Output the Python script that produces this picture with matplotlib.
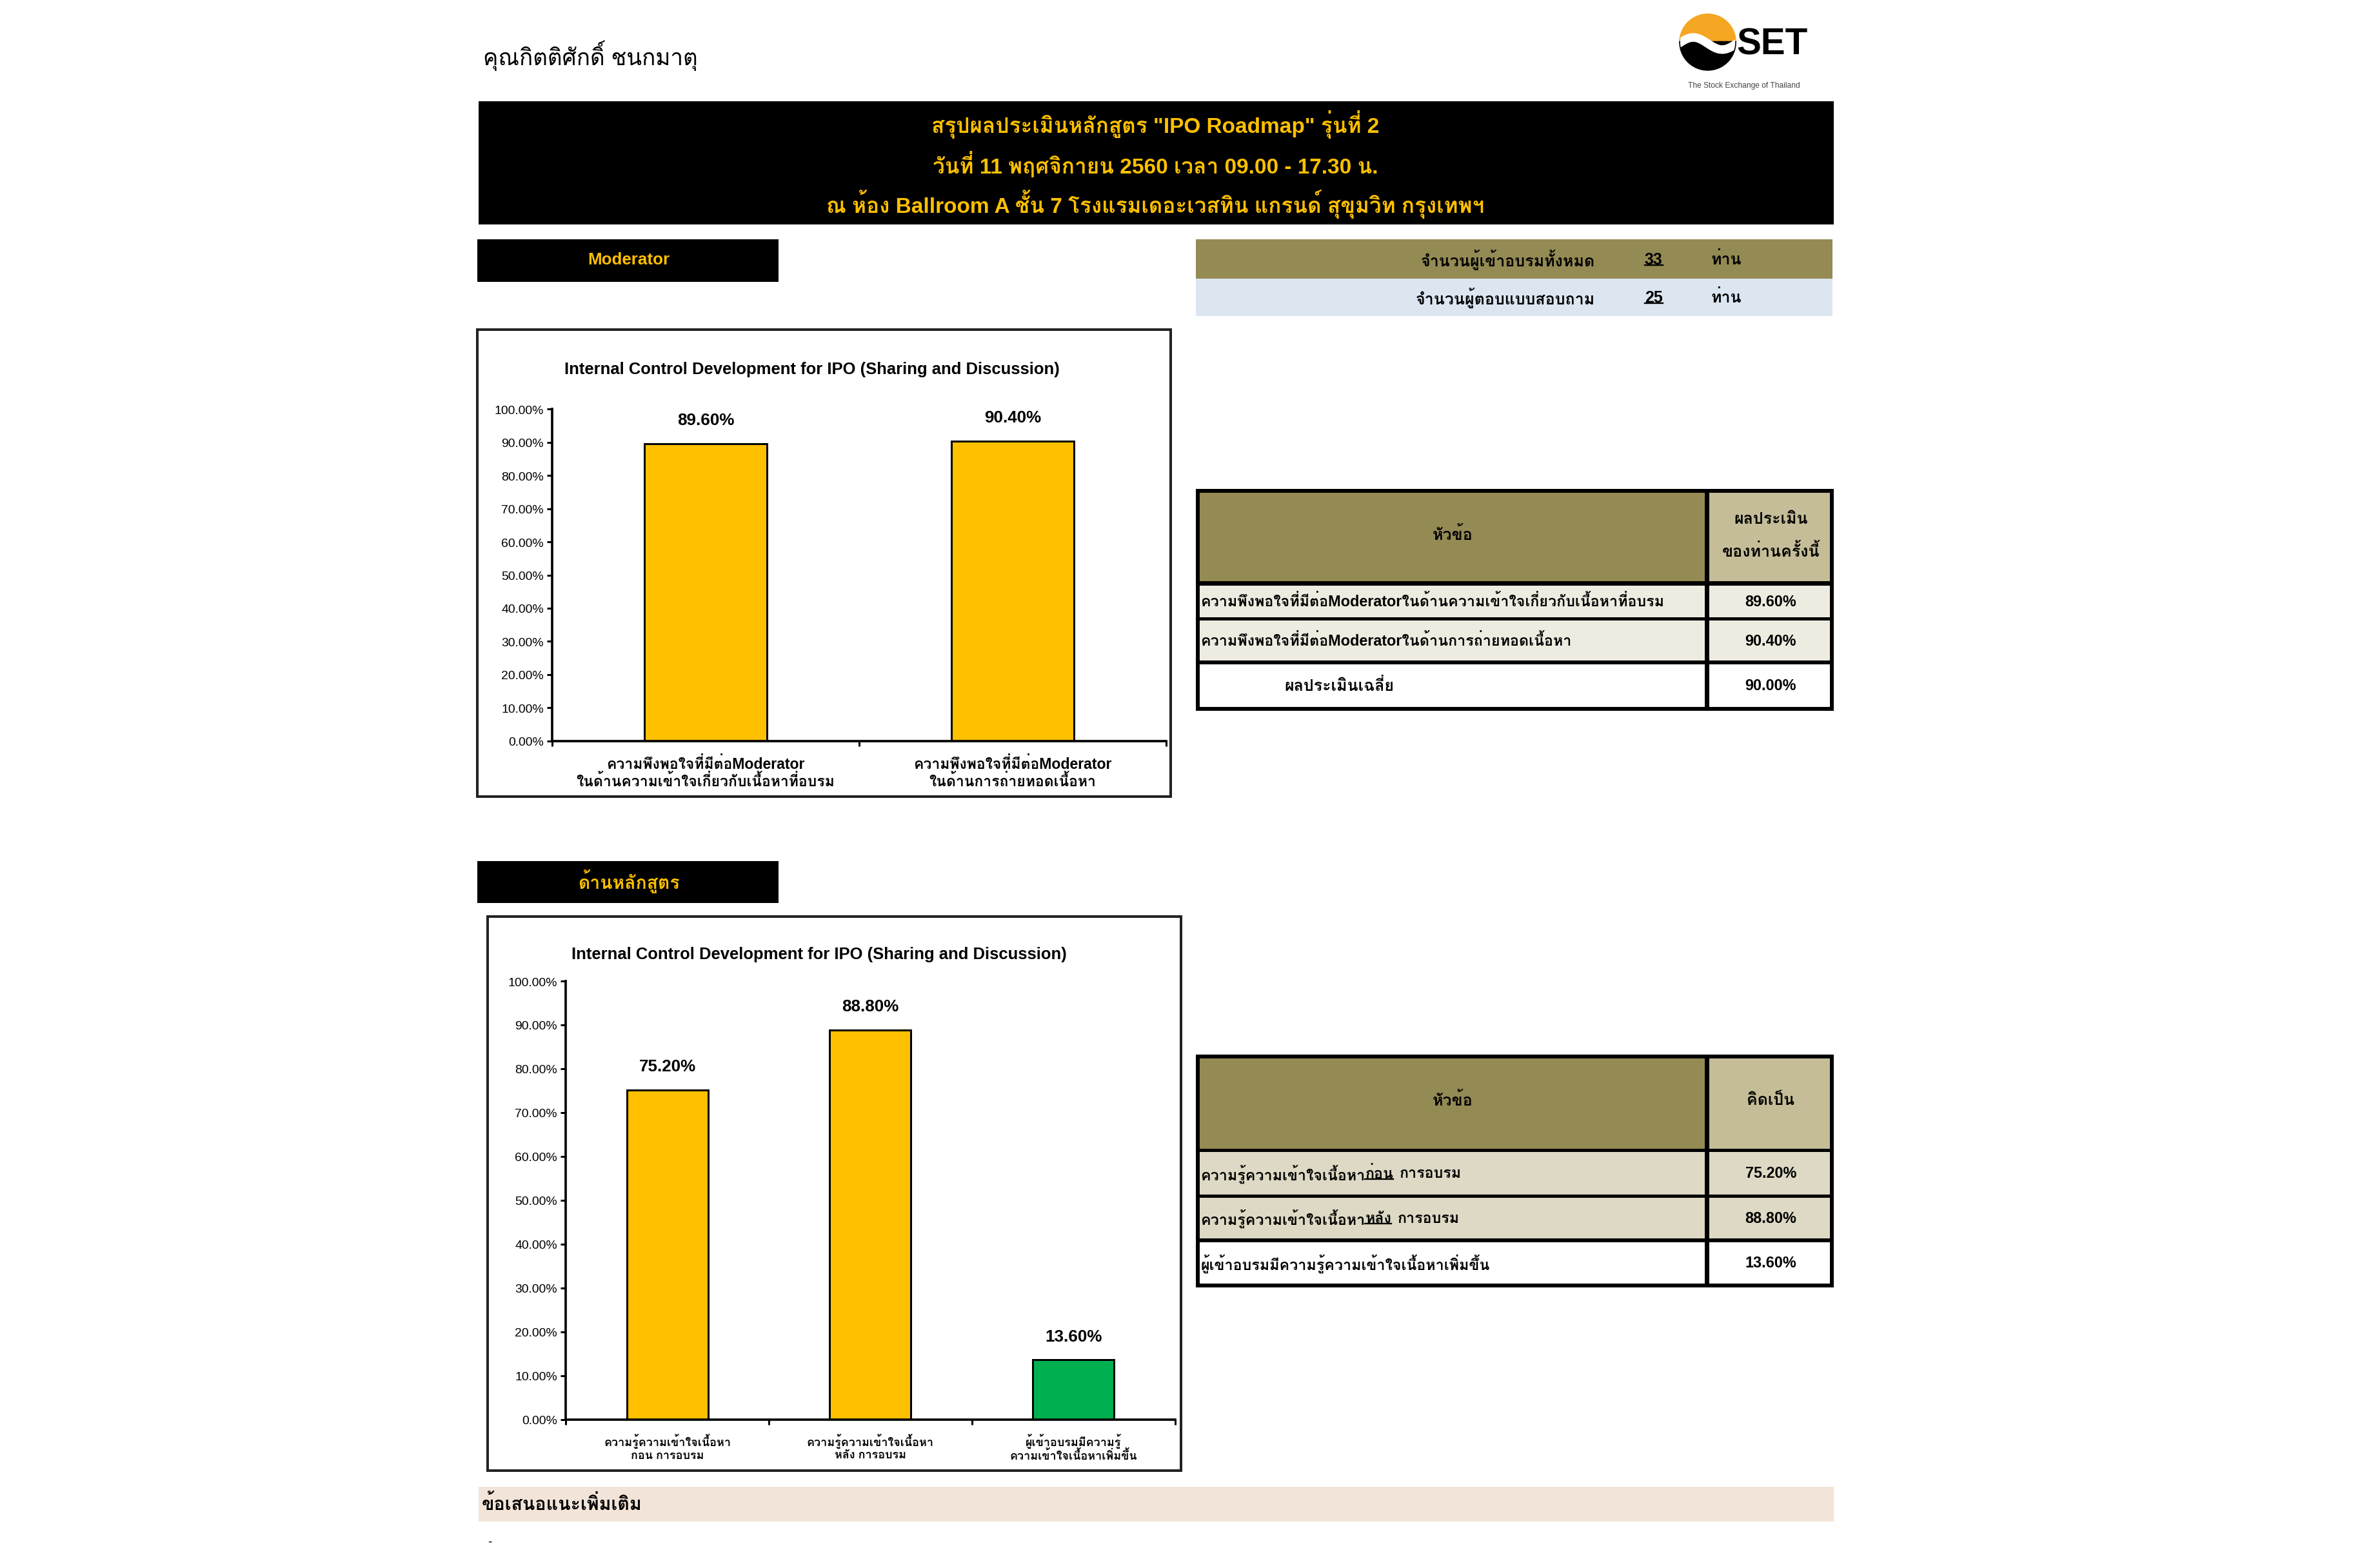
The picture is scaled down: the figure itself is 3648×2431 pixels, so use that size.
import matplotlib
matplotlib.use("Agg")
import matplotlib.pyplot as plt
from matplotlib import font_manager
from matplotlib.patches import Rectangle, Wedge, Circle
from matplotlib.lines import Line2D
from matplotlib.ticker import FuncFormatter
import numpy as np
from fontTools.ttLib import TTFont

# ---- data ----
participant_name = "คุณกิตติศักดิ์ ชนกมาตุ"
header_lines = [
    'สรุปผลประเมินหลักสูตร "IPO Roadmap" รุ่นที่ 2',
    "วันที่ 11 พฤศจิกายน 2560 เวลา 09.00 - 17.30 น.",
    "ณ ห้อง Ballroom A ชั้น 7 โรงแรมเดอะเวสทิน แกรนด์ สุขุมวิท กรุงเทพฯ",
]
chart_title = "Internal Control Development for IPO (Sharing and Discussion)"

info_labels = ["จำนวนผู้เข้าอบรมทั้งหมด", "จำนวนผู้ตอบแบบสอบถาม"]
info_counts = ["33", "25"]
info_unit = "ท่าน"

mod_categories = [
    "ความพึงพอใจที่มีต่อModerator\nในด้านความเข้าใจเกี่ยวกับเนื้อหาที่อบรม",
    "ความพึงพอใจที่มีต่อModerator\nในด้านการถ่ายทอดเนื้อหา",
]
mod_values = [89.60, 90.40]
mod_colors = ["#FFC000", "#FFC000"]
mod_rows = [
    "ความพึงพอใจที่มีต่อModeratorในด้านความเข้าใจเกี่ยวกับเนื้อหาที่อบรม",
    "ความพึงพอใจที่มีต่อModeratorในด้านการถ่ายทอดเนื้อหา",
]
mod_avg_label = "ผลประเมินเฉลี่ย"
mod_avg = 90.00

course_categories = [
    "ความรู้ความเข้าใจเนื้อหา\nก่อน การอบรม",
    "ความรู้ความเข้าใจเนื้อหา\nหลัง การอบรม",
    "ผู้เข้าอบรมมีความรู้\nความเข้าใจเนื้อหาเพิ่มขึ้น",
]
course_values = [75.20, 88.80, 13.60]
course_colors = ["#FFC000", "#FFC000", "#00B050"]
# (text before, underlined word, text after)
course_rows = [
    ("ความรู้ความเข้าใจเนื้อหา", "ก่อน", "การอบรม"),
    ("ความรู้ความเข้าใจเนื้อหา", "หลัง", "การอบรม"),
    ("ผู้เข้าอบรมมีความรู้ความเข้าใจเนื้อหาเพิ่มขึ้น", "", ""),
]

YELLOW = "#FFC000"
OLIVE = "#948A54"
KHAKI = "#C4BD97"
ROW_LIGHT = "#EEECE1"
ROW_BEIGE = "#DDD9C4"
PALE_BLUE = "#DCE6F1"
PEACH = "#F2E4D8"


def find_thai_font():
    for f in font_manager.fontManager.ttflist:
        try:
            cmap = TTFont(f.fname, fontNumber=0, lazy=True).getBestCmap()
        except Exception:
            continue
        if cmap and 0x0E01 in cmap:
            return f.name
    return None


thai = find_thai_font()
fams = ["Liberation Sans"] + ([thai] if thai else []) + ["DejaVu Sans"]
plt.rcParams["font.family"] = fams

W, H = 1568, 1045  # layout grid (reference pixels at 1568 wide)
fig = plt.figure(figsize=(15.2, 10.1333), dpi=240)
renderer = fig.canvas.get_renderer()


def fx(x):
    return x / W


def fy(y):
    return 1 - y / H


def rect(x0, y0, x1, y1, fc, ec="none", lw=0, z=0):
    fig.add_artist(Rectangle((fx(x0), fy(y1)), (x1 - x0) / W, (y1 - y0) / H,
                             transform=fig.transFigure, facecolor=fc,
                             edgecolor=ec, linewidth=lw, zorder=z))


def text(x, y, s, **kw):
    kw.setdefault("va", "center")
    return fig.text(fx(x), fy(y), s, **kw)


def underline(t, lw=0.7):
    bb = t.get_window_extent(renderer).transformed(fig.transFigure.inverted())
    yl = bb.y0 + 0.12 * bb.height
    fig.add_artist(Line2D([bb.x0, bb.x1], [yl, yl], transform=fig.transFigure,
                          color="black", lw=lw))
    return bb


def bar_chart(box, axbox, title_xy, categories, values, colors, cat_fs, cat_pad):
    bx0, by0, bx1, by1 = box
    rect(bx0, by0, bx1, by1, "white", ec="#222222", lw=1.2)
    text(title_xy[0], title_xy[1], chart_title, ha="center", fontsize=7.7,
         fontweight="bold")
    ax0, ay0, ax1, ay1 = axbox
    ax = fig.add_axes([fx(ax0), fy(ay1), (ax1 - ax0) / W, (ay1 - ay0) / H])
    x = np.arange(len(values))
    bars = ax.bar(x, values, width=0.4, color=colors, edgecolor="black",
                  linewidth=0.9)
    for b, v in zip(bars, values):
        ax.annotate(f"{v:.2f}%", (b.get_x() + b.get_width() / 2, v),
                    xytext=(0, 11), textcoords="offset points", ha="center",
                    va="center", fontsize=7.8, fontweight="bold")
    ax.set_xlim(-0.5, len(values) - 0.5)
    ax.set_ylim(0, 100)
    ax.set_yticks(np.arange(0, 101, 10))
    ax.yaxis.set_major_formatter(FuncFormatter(lambda v, p: f"{v:.2f}%"))
    ax.tick_params(axis="y", labelsize=5.8, length=2.5, width=0.9, pad=1.5)
    ax.set_xticks(np.arange(len(values) + 1) - 0.5, [""] * (len(values) + 1))
    ax.tick_params(axis="x", which="major", length=2.5, width=0.9)
    ax.set_xticks(x, categories, minor=True)
    ax.tick_params(axis="x", which="minor", length=0, labelsize=cat_fs,
                   pad=cat_pad)
    for lab in ax.get_xticklabels(minor=True):
        lab.set_fontweight("bold")
        lab.set_linespacing(1.15)
    for s in ("top", "right"):
        ax.spines[s].set_visible(False)
    for s in ("left", "bottom"):
        ax.spines[s].set_linewidth(1.1)
    return ax


# ---- top: name + logo ----
text(322, 37, participant_name, ha="left", fontsize=10.5)

lax = fig.add_axes([fx(1116), fy(50.5), 44 / W, 44 / H])
lax.set_xlim(-1.2, 1.2)
lax.set_ylim(-1.2, 1.2)
lax.set_aspect("equal")
lax.axis("off")
lax.add_patch(Wedge((0, 0), 1, 0, 180, color="#F5A623"))
lax.add_patch(Wedge((0, 0), 1, 180, 360, color="black"))
circ = Circle((0, 0), 1, transform=lax.transData, fc="none", ec="none")
lax.add_patch(circ)
t = np.linspace(-1.1, 1.1, 60)
wave, = lax.plot(t, -0.22 * np.sin(np.pi * t * 0.95) - 0.05, color="white",
                 lw=4, solid_capstyle="butt")
wave.set_clip_path(circ)
text(1181, 30, "SET", ha="center", fontsize=17, fontweight="bold")
text(1162, 57, "The Stock Exchange of Thailand", ha="center", fontsize=3.6,
     color="#444444")

# ---- black header ----
rect(319, 68, 1222, 150, "black")
for yy, line in zip([83, 110, 136], header_lines):
    text(770, yy, line, ha="center", fontsize=10, fontweight="bold",
         color=YELLOW)

# ---- section tags ----
rect(318, 160, 519, 188, "black")
text(419, 173, "Moderator", ha="center", fontsize=7.8, fontweight="bold",
     color=YELLOW)
rect(318, 574, 519, 602, "black")
text(419, 587, "ด้านหลักสูตร", ha="center", fontsize=8.5, fontweight="bold",
     color=YELLOW)

# ---- info rows ----
for (y0, y1), fc, lab, cnt in zip([(160, 186), (186, 211)], [OLIVE, PALE_BLUE],
                                  info_labels, info_counts):
    rect(797, y0, 1221, y1, fc)
    ym = (y0 + y1) / 2
    text(1063, ym, lab, ha="right", fontsize=7.5, fontweight="bold")
    underline(text(1102, ym, cnt, ha="center", fontsize=7.5, fontweight="bold"))
    text(1140, ym, info_unit, ha="left", fontsize=7.5, fontweight="bold")

# ---- moderator chart + table ----
bar_chart((318, 220, 780, 531), (368, 273, 777, 494), (541, 246),
          mod_categories, mod_values, mod_colors, 6.9, 7)

rect(797, 326, 1222, 474, "black")
rect(799.5, 328.5, 1136, 387.5, OLIVE)
rect(1139, 328.5, 1219.5, 387.5, KHAKI)
text(968, 356, "หัวข้อ", ha="center", fontsize=7.5, fontweight="bold")
text(1180, 357, "ผลประเมิน\nของท่านครั้งนี้", ha="center", fontsize=7.5,
     fontweight="bold", linespacing=2.2)
mod_row_y = [(390.5, 411.5), (414, 440.5)]
for (y0, y1), lab, v in zip(mod_row_y, mod_rows, mod_values):
    rect(799.5, y0, 1136, y1, ROW_LIGHT)
    rect(1139, y0, 1219.5, y1, ROW_LIGHT)
    ym = (y0 + y1) / 2
    text(800, ym, lab, ha="left", fontsize=7, fontweight="bold")
    text(1180, ym, f"{v:.2f}%", ha="center", fontsize=7, fontweight="bold")
rect(799.5, 443, 1136, 471.5, "white")
rect(1139, 443, 1219.5, 471.5, "white")
text(856, 457, mod_avg_label, ha="left", fontsize=7.5, fontweight="bold")
text(1180, 457, f"{mod_avg:.2f}%", ha="center", fontsize=7, fontweight="bold")

# ---- course chart + table ----
bar_chart((325, 611, 787, 980), (377, 654, 783, 946), (546, 636),
          course_categories, course_values, course_colors, 5.4, 6.3)

rect(797, 703, 1222, 858, "black")
rect(799.5, 705.5, 1136, 765.5, OLIVE)
rect(1139, 705.5, 1219.5, 765.5, KHAKI)
text(968, 733, "หัวข้อ", ha="center", fontsize=7.5, fontweight="bold")
text(1180, 733, "คิดเป็น", ha="center", fontsize=7.5, fontweight="bold")
course_row_y = [(768, 796), (798.5, 825.5), (828, 855.5)]
course_row_fc = [ROW_BEIGE, ROW_BEIGE, "white"]
for (y0, y1), fc, parts, v in zip(course_row_y, course_row_fc, course_rows,
                                  course_values):
    rect(799.5, y0, 1136, y1, fc)
    rect(1139, y0, 1219.5, y1, fc)
    ym = (y0 + y1) / 2
    pre, word, post = parts
    t0 = text(800, ym, pre, ha="left", fontsize=7, fontweight="bold")
    bb = t0.get_window_extent(renderer).transformed(fig.transFigure.inverted())
    if word:
        t1 = text(bb.x1 * W, ym, word, ha="left", fontsize=7, fontweight="bold")
        bb = underline(t1)
        text(bb.x1 * W + 4, ym, post, ha="left", fontsize=7, fontweight="bold")
    text(1180, ym, f"{v:.2f}%", ha="center", fontsize=7, fontweight="bold")

# ---- suggestions ----
rect(319, 991, 1222, 1014, PEACH)
text(321, 1002, "ข้อเสนอแนะเพิ่มเติม", ha="left", fontsize=8.6, fontweight="bold")
text(325, 1027, "-", ha="left", fontsize=6)

fig.savefig("out.png", dpi=240, facecolor="white")
